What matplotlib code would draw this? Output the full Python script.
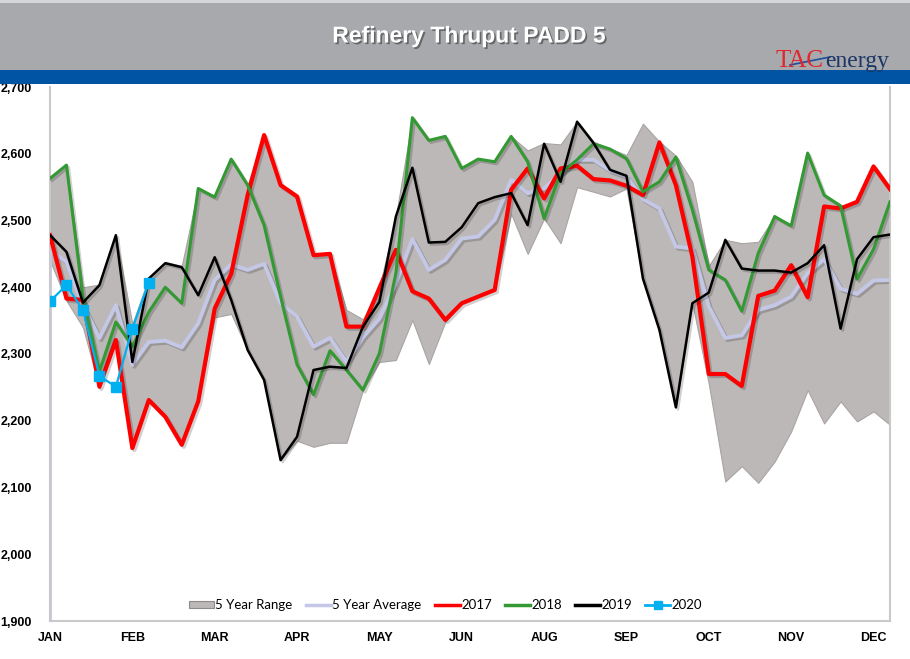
import numpy as np
import matplotlib
matplotlib.use("Agg")
import matplotlib.pyplot as plt
from matplotlib.patches import Rectangle, Patch
from matplotlib.lines import Line2D
import matplotlib.patheffects as pe

# ---------------- data (thousand b/d, weekly) ----------------
month_labels = ["JAN", "FEB", "MAR", "APR", "MAY", "JUN", "AUG", "SEP", "OCT", "NOV", "DEC"]
y_labels = ["1,900", "2,000", "2,100", "2,200", "2,300", "2,400", "2,500", "2,600", "2,700"]
y_values = [1900, 2000, 2100, 2200, 2300, 2400, 2500, 2600, 2700]

range_max = [2563, 2583, 2400, 2404, 2478, 2345, 2415, 2438, 2432, 2548,
             2537, 2592, 2553, 2628, 2553, 2536, 2448, 2450, 2366, 2352,
             2400, 2506, 2654, 2620, 2626, 2578, 2592, 2588, 2626, 2605,
             2616, 2614, 2648, 2618, 2608, 2598, 2645, 2618, 2597, 2558,
             2432, 2471, 2466, 2468, 2506, 2492, 2601, 2538, 2522, 2528,
             2581, 2547]
range_min = [2440, 2380, 2340, 2249, 2318, 2159, 2231, 2206, 2164, 2229,
             2355, 2360, 2306, 2261, 2141, 2170, 2161, 2167, 2167, 2246,
             2288, 2291, 2351, 2285, 2348, 2376, 2386, 2396, 2510, 2450,
             2503, 2466, 2550, 2543, 2536, 2548, 2413, 2336, 2220, 2376,
             2255, 2109, 2132, 2107, 2139, 2184, 2246, 2196, 2229, 2199,
             2214, 2194]
avg5 = [2455, 2438, 2373, 2324, 2373, 2284, 2318, 2320, 2310, 2346,
        2411, 2434, 2426, 2435, 2376, 2356, 2311, 2324, 2288, 2325,
        2353, 2406, 2472, 2426, 2441, 2473, 2476, 2501, 2561, 2541,
        2548, 2571, 2591, 2591, 2575, 2566, 2532, 2518, 2461, 2458,
        2371, 2324, 2328, 2366, 2373, 2386, 2421, 2442, 2398, 2390,
        2410, 2411]
y2017 = [2478, 2383, 2381, 2251, 2321, 2159, 2231, 2206, 2164, 2229,
         2368, 2420, 2538, 2628, 2553, 2536, 2448, 2450, 2341, 2341,
         2399, 2456, 2394, 2383, 2351, 2376, 2386, 2396, 2546, 2578,
         2533, 2578, 2582, 2562, 2560, 2552, 2538, 2617, 2553, 2446,
         2270, 2270, 2252, 2387, 2395, 2433, 2385, 2521, 2518, 2528,
         2581, 2547]
y2018 = [2563, 2583, 2385, 2274, 2348, 2311, 2363, 2400, 2376, 2548,
         2535, 2592, 2553, 2493, 2386, 2284, 2239, 2305, 2276, 2246,
         2301, 2421, 2654, 2620, 2626, 2578, 2592, 2588, 2626, 2588,
         2503, 2571, 2591, 2615, 2607, 2593, 2543, 2558, 2595, 2516,
         2426, 2411, 2364, 2451, 2506, 2492, 2601, 2538, 2522, 2412,
         2457, 2528]
y2019 = [2478, 2453, 2377, 2403, 2478, 2288, 2413, 2436, 2430, 2388,
         2445, 2381, 2306, 2261, 2141, 2176, 2276, 2281, 2279, 2341,
         2378, 2506, 2579, 2467, 2468, 2490, 2526, 2535, 2541, 2493,
         2615, 2558, 2648, 2616, 2576, 2567, 2413, 2336, 2220, 2376,
         2392, 2471, 2428, 2425, 2425, 2422, 2436, 2463, 2338, 2442,
         2475, 2479]
y2020 = [2379, 2403, 2366, 2267, 2251, 2338, 2407]

# ---------------- styling ----------------
C_RANGE = "#BCB8B7"
C_AVG = "#C4C7E6"
C_2017 = "#FF0000"
C_2018 = "#339933"
C_2019 = "#000000"
C_2020 = "#00B0F0"

fig = plt.figure(figsize=(9.10, 6.59), dpi=100)
fig.patch.set_facecolor("white")

# header bands
fig.patches.append(Rectangle((0, 1 - 70 / 659), 1, 70 / 659, transform=fig.transFigure,
                             facecolor="#A7A9AC", edgecolor="none", zorder=0))
fig.patches.append(Rectangle((0, 1 - 84 / 659), 1, 14 / 659, transform=fig.transFigure,
                             facecolor="#0154A4", edgecolor="none", zorder=0))
fig.patches.append(Rectangle((0, 1 - 3 / 659), 1, 3 / 659, transform=fig.transFigure,
                             facecolor="#D5D6D8", edgecolor="none", zorder=0))

fig.text(0.515, 1 - 36 / 659, "Refinery Thruput PADD 5", ha="center", va="center",
         color="white", fontsize=16.5, fontweight="bold", family="Liberation Sans",
         path_effects=[pe.withSimplePatchShadow(offset=(1.2, -1.2), shadow_rgbFace="#4a4a4a", alpha=0.7)])

# logo
fig.text(775 / 910, 1 - 67 / 659, "TAC", ha="left", va="baseline", color="#E1262C",
         fontsize=18, family="Liberation Serif")
fig.text(825 / 910, 1 - 67 / 659, "energy", ha="left", va="baseline", color="#1D3566",
         fontsize=17, family="Liberation Serif")
fig.lines.append(Line2D([790 / 910, 830 / 910], [1 - 65 / 659, 1 - 57 / 659],
                        transform=fig.transFigure, color="#1D4F9C", lw=1.2))

ax = fig.add_axes([50 / 910, 1 - 621 / 659, 840 / 910, 534 / 659])
ax.set_facecolor("white")

x = np.arange(len(avg5))
x20 = np.arange(len(y2020))

shadow = [pe.SimpleLineShadow(offset=(1.5, -1.5), shadow_color="#000000", alpha=0.18), pe.Normal()]

ax.fill_between(x, range_min, range_max, facecolor=C_RANGE, edgecolor="#A8A4A3",
                linewidth=0.8, zorder=1)
ax.plot(x, avg5, color=C_AVG, lw=2.8, zorder=2, path_effects=shadow)
ax.vlines([x[0], x[-1]], 1900, [avg5[0], avg5[-1]], color=C_AVG, lw=2.0, zorder=2)
ax.plot(x, y2017, color=C_2017, lw=3.0, zorder=3, path_effects=shadow)
ax.plot(x, y2018, color=C_2018, lw=2.2, zorder=4, path_effects=shadow)
ax.plot(x, y2019, color=C_2019, lw=1.8, zorder=5, path_effects=shadow)
ax.plot(x20, y2020, color=C_2020, lw=1.6, marker="s", markersize=7.5, zorder=6)

ax.set_xlim(0, len(avg5) - 1)
ax.set_ylim(y_values[0], y_values[-1])

ax.set_xticks(np.arange(0, len(avg5), 5)[:len(month_labels)])
ax.set_xticklabels(month_labels)
ax.set_yticks(y_values)
ax.set_yticklabels(y_labels)
for lab in ax.get_xticklabels() + ax.get_yticklabels():
    lab.set_fontfamily("Liberation Sans")
    lab.set_fontweight("bold")
    lab.set_fontsize(9)
ax.tick_params(axis="x", length=0, pad=8)
ax.tick_params(axis="y", length=0, pad=13)

for s in ["top"]:
    ax.spines[s].set_visible(False)
for s in ["left", "bottom", "right"]:
    ax.spines[s].set_color("#C9C9C9")
    ax.spines[s].set_linewidth(1.5)

handles = [
    Patch(facecolor=C_RANGE, edgecolor="#8f8b8a", linewidth=0.8),
    Line2D([], [], color=C_AVG, lw=2.5),
    Line2D([], [], color=C_2017, lw=2.5),
    Line2D([], [], color=C_2018, lw=2.5),
    Line2D([], [], color=C_2019, lw=2.5),
    Line2D([], [], color=C_2020, lw=2.0, marker="s", markersize=6),
]
labels = ["5 Year Range", "5 Year Average", "2017", "2018", "2019", "2020"]
leg = ax.legend(handles, labels, loc="center", bbox_to_anchor=(0.471, 0.03), ncol=6,
                frameon=False, handlelength=1.9, handleheight=0.45, handletextpad=0.1,
                columnspacing=1.0, prop={"family": "Lato", "size": 9.5})
leg.set_zorder(10)

fig.savefig("out.png", dpi=100)
